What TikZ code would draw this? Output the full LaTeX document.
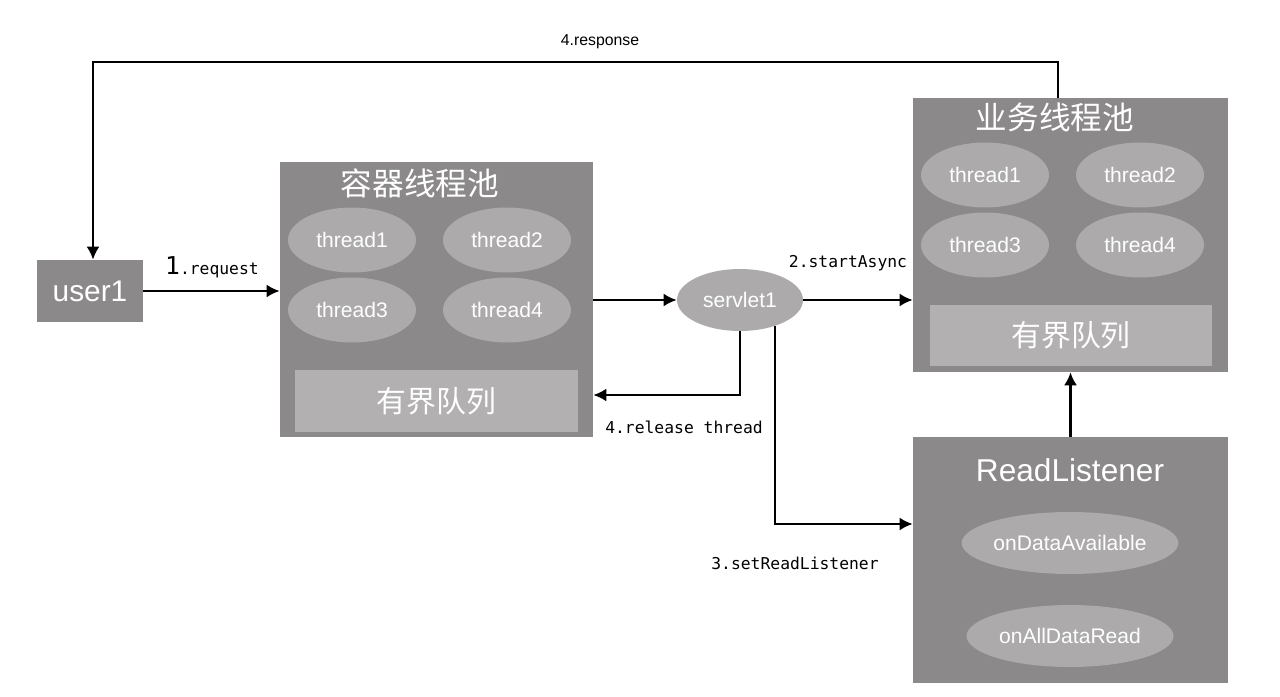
\documentclass[tikz,border=0pt]{standalone}
\usepackage{fontspec}
\setmainfont{Liberation Sans}
\newfontfamily\cjk{Noto Sans CJK SC}
\newfontfamily\monofam{DejaVu Sans Mono}
\usepackage{tikz}
\usetikzlibrary{shapes.geometric}
\usetikzlibrary{arrows.meta}

\definecolor{poolgray}{RGB}{139,137,138}
\definecolor{threadgray}{RGB}{172,170,171}
\definecolor{queuegray}{RGB}{178,176,177}

\tikzset{
  pool/.style={fill=poolgray, rectangle, inner sep=0pt},
  thread/.style={fill=threadgray, ellipse, text=white, inner sep=0pt, minimum width=2.56cm, minimum height=1.3cm, font=\fontsize{12}{14}\selectfont},
  queue/.style={fill=queuegray, rectangle, text=white, inner sep=0pt, minimum width=5.66cm, minimum height=1.24cm, font=\cjk\fontsize{17}{19}\selectfont},
  title/.style={text=white, inner sep=0pt, font=\cjk\fontsize{18}{20}\selectfont},
  flow/.style={line width=1.3pt, -{Latex[length=2.6mm,width=2.6mm]}},
  steplabel/.style={inner sep=0pt, font=\monofam\fontsize{9.3}{11}\selectfont}
}

\begin{document}
\begin{tikzpicture}[x=0.02cm, y=-0.02cm]
\useasboundingbox (0,0) rectangle (1280,696);

\node[pool, minimum width=2.12cm, minimum height=1.24cm, text=white, font=\fontsize{17}{19}\selectfont] (user1) at (90,291) {user1};

\node[pool, minimum width=6.26cm, minimum height=5.5cm] (cpool) at (436.5,299.5) {};
\node[title] (ctitle) at (420,183) {容器线程池};
\node[thread] (ct1) at (352,240) {thread1};
\node[thread] (ct2) at (507,240) {thread2};
\node[thread] (ct3) at (352,310) {thread3};
\node[thread] (ct4) at (507,310) {thread4};
\node[queue] (cqueue) at (436.5,401) {有界队列};

\node[thread, minimum width=2.52cm, minimum height=1.24cm] (servlet1) at (740,300) {servlet1};

\node[pool, minimum width=6.3cm, minimum height=5.48cm] (bpool) at (1070.5,235) {};
\node[title] (btitle) at (1055,117) {业务线程池};
\node[thread] (bt1) at (985,175) {thread1};
\node[thread] (bt2) at (1140,175) {thread2};
\node[thread] (bt3) at (985,245) {thread3};
\node[thread] (bt4) at (1140,245) {thread4};
\node[queue, minimum width=5.64cm, minimum height=1.22cm] (bqueue) at (1071,335.5) {有界队列};

\node[pool, minimum width=6.3cm, minimum height=4.92cm] (rlist) at (1070.5,560) {};
\node[title, font=\fontsize{18}{20}\selectfont] (rtitle) at (1070,470) {ReadListener};
\node[thread, minimum width=4.14cm, minimum height=1.24cm] (avail) at (1070,543) {onDataAvailable};
\node[thread, minimum width=4.14cm, minimum height=1.24cm] (allread) at (1070,636) {onAllDataRead};

\coordinate (rtop) at (1058,62);
\coordinate (ltop) at (93,62);
\draw[flow] (rtop |- bpool.north) -- (rtop) -- (ltop) -- (ltop |- user1.north);
\node[inner sep=0pt, font=\fontsize{9}{11}\selectfont] (resp) at (600,42) {4.response};

\draw[flow] (user1.east) -- (user1.east -| cpool.west);
\node[steplabel] (req) at (212,267) {{\fontsize{14}{16}\selectfont 1}.request};

\draw[flow] (cpool.east |- servlet1.west) -- (servlet1.west);
\draw[flow] (servlet1.east) -- (servlet1.east -| bpool.west);
\node[steplabel] (async) at (848,263) {2.startAsync};

\coordinate (relbend) at (740,395);
\draw[flow] (servlet1.south) -- (relbend) -- (relbend -| cpool.east);
\node[steplabel] (rel) at (684,427) {4.release thread};

\coordinate (setbend) at (775,524);
\draw[flow] (servlet1.-37) |- (setbend -| rlist.west);
\node[steplabel] (setl) at (795,563) {3.setReadListener};

\draw[flow] (rlist.north) -- (bpool.south);
\end{tikzpicture}
\end{document}
